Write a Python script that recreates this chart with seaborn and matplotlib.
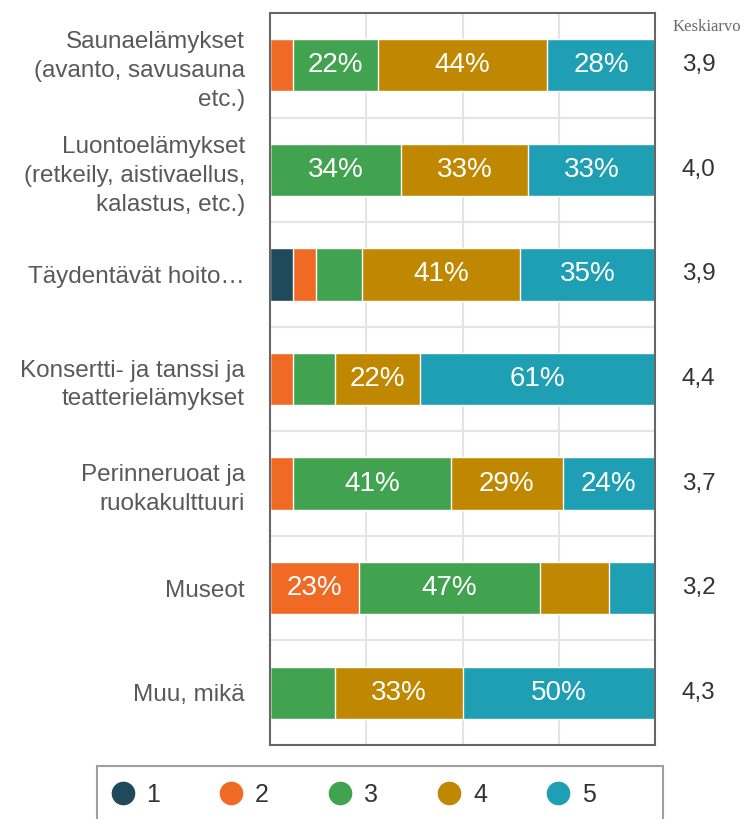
import pandas as pd
import matplotlib.pyplot as plt
from matplotlib.lines import Line2D
from matplotlib.patches import Rectangle
import seaborn as sns

categories = [
    'Saunaelämykset\n(avanto, savusauna\netc.)',
    'Luontoelämykset\n(retkeily, aistivaellus,\nkalastus, etc.)',
    'Täydentävät hoito…',
    'Konsertti- ja tanssi ja\nteatterielämykset',
    'Perinneruoat ja\nruokakulttuuri',
    'Museot',
    'Muu, mikä',
]
levels = ['1', '2', '3', '4', '5']
share_1 = [0, 0, 6, 0, 0, 0, 0]
share_2 = [6, 0, 6, 6, 6, 23, 0]
share_3 = [22, 34, 12, 11, 41, 47, 17]
share_4 = [44, 33, 41, 22, 29, 18, 33]
share_5 = [28, 33, 35, 61, 24, 12, 50]
averages = ['3,9', '4,0', '3,9', '4,4', '3,7', '3,2', '4,3']
colors = ['#1f4a5c', '#f06a25', '#41a34f', '#bf8800', '#1e9fb4']


def main():
    sns.set_theme(style="white")
    plt.rcParams['font.family'] = ['Liberation Sans', 'DejaVu Sans']

    df = pd.DataFrame({'kategoria': categories, '1': share_1, '2': share_2,
                       '3': share_3, '4': share_4, '5': share_5})
    cum = df[levels].cumsum(axis=1)
    cum['kategoria'] = df['kategoria']

    fig = plt.figure(figsize=(7.44, 8.19), dpi=100)
    ax = fig.add_axes([270 / 744, 1 - 745 / 819, 385 / 744, 732 / 819])

    # stacked bars: draw cumulative totals from the top level down
    for i in reversed(range(len(levels))):
        sns.barplot(data=cum, x=levels[i], y='kategoria', orient='h',
                    color=colors[i], saturation=1, width=0.5,
                    edgecolor='white', linewidth=1, ax=ax)

    # percent labels inside segments
    for r in range(len(categories)):
        for lvl in levels:
            val = df.loc[r, lvl]
            if val >= 20:
                ax.text(cum.loc[r, lvl] - val / 2, r, f'{val}%', ha='center',
                        va='center', color='white', fontsize=20)

    # averages column
    for r, avg in enumerate(averages):
        ax.text(1.07, r, avg, transform=ax.get_yaxis_transform(), ha='left',
                va='center', color='#333333', fontsize=17.5)
    fig.text(673 / 744, 1 - 27 / 819, 'Keskiarvo', family='Liberation Serif',
             fontsize=12, color='#6a6a6a', ha='left', va='center')

    ax.set_xlim(0, 100)
    ax.set_ylim(6.5, -0.5)
    ax.set_xlabel('')
    ax.set_ylabel('')
    ax.set_xticks([25, 50, 75])
    ax.set_xticklabels([])
    ax.set_yticks(range(len(categories)), minor=False)
    ax.set_yticks([r + 0.5 for r in range(len(categories) - 1)], minor=True)
    ax.tick_params(axis='x', length=0)
    ax.tick_params(axis='y', which='both', length=0, pad=18, labelsize=17.5,
                   labelcolor='#595959')
    for lbl in ax.get_yticklabels():
        lbl.set_linespacing(1.4)
    ax.grid(axis='x', which='major', color='#e4e4e4', linewidth=1.5)
    ax.grid(axis='y', which='minor', color='#e4e4e4', linewidth=1.5)
    ax.set_axisbelow(True)
    for s in ax.spines.values():
        s.set_visible(True)
        s.set_color('#666666')
        s.set_linewidth(1.5)

    # legend
    handles = [Line2D([], [], marker='o', linestyle='', markersize=16,
                      markerfacecolor=c, markeredgecolor=c) for c in colors]
    fig.legend(handles, levels, loc='center left',
               bbox_to_anchor=(110 / 744, 1 - 795 / 819), ncol=5, frameon=False,
               fontsize=18, handlelength=1.0, handletextpad=0.45,
               columnspacing=2.35, borderpad=0, borderaxespad=0,
               labelcolor='#333333')
    fig.add_artist(Rectangle((97 / 744, -0.05), (663 - 97) / 744,
                             0.05 + 1 - 766 / 819, transform=fig.transFigure,
                             fill=False, edgecolor='#a0a0a0', linewidth=1.5))

    fig.savefig('out.png', dpi=100)
    plt.close(fig)


if __name__ == '__main__':
    main()
